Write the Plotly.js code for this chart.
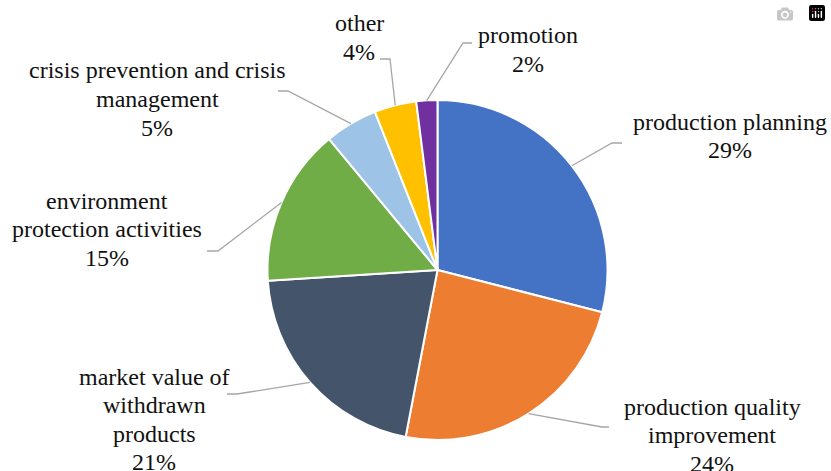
<!DOCTYPE html>
<html>
<head>
<meta charset="utf-8">
<script src="https://cdn.plot.ly/plotly-3.0.1.min.js"></script>
</head>
<body style="margin:0">
<div id="chart"></div>
<script>
// ---- data ----
const labels = ['production planning', 'production quality improvement', 'market value of withdrawn products',
  'environment protection activities', 'crisis prevention and crisis management', 'other', 'promotion'];
const values = [29, 24, 21, 15, 5, 4, 2];
// wrapped label text (as in the reference)
const labelLines = [
  ['production planning'],
  ['production quality', 'improvement'],
  ['market value of', 'withdrawn', 'products'],
  ['environment', 'protection activities'],
  ['crisis prevention and crisis', 'management'],
  ['other'],
  ['promotion']
];

// ---- style ----
const colors = ['#4472C4', '#ED7D31', '#44546A', '#70AD47', '#9DC3E6', '#FFC000', '#7030A0'];
const W = 831, H = 471;
const cx = 437.5, cy = 270, R = 170;
const FS = 24, LS = 28.5;
const FONT = 'Times New Roman';
// label placement: text centre x, first baseline y, leader elbow and end (pixels)
const labelPos = [
  {x: 730, y: 129, elbow: [612, 143], end: [622, 143]},
  {x: 712, y: 414, elbow: [602, 427], end: [609, 427]},
  {x: 154, y: 384, elbow: [237, 394], end: [227, 394]},
  {x: 107, y: 208, elbow: [218, 251], end: [207, 251]},
  {x: 157, y: 78,  elbow: [288, 91],  end: [278, 91]},
  {x: 359, y: 31,  elbow: [390, 59],  end: [380, 59]},
  {x: 528, y: 43,  elbow: [463, 43],  end: [472, 43]}
];

const px = x => x / W;
const py = y => 1 - y / H;

const total = values.reduce((a, b) => a + b, 0);
const annotations = [];
const shapes = [];
let cum = 0;
values.forEach((v, i) => {
  const th = (cum + v / 2) / total * 2 * Math.PI;
  cum += v;
  const sx = cx + R * Math.sin(th), sy = cy - R * Math.cos(th);
  const lp = labelPos[i];
  shapes.push({
    type: 'path', xref: 'paper', yref: 'paper',
    path: `M ${px(sx)} ${py(sy)} L ${px(lp.elbow[0])} ${py(lp.elbow[1])} L ${px(lp.end[0])} ${py(lp.end[1])}`,
    line: {color: '#A6A6A6', width: 1.3}
  });
  const lines = labelLines[i].concat([Math.round(v / total * 100) + '%']);
  lines.forEach((t, k) => {
    annotations.push({
      text: t, showarrow: false, xref: 'paper', yref: 'paper',
      x: px(lp.x), y: py(lp.y + k * LS - 7.5), xanchor: 'center', yanchor: 'middle',
      font: {family: FONT, size: FS, color: '#111'}
    });
  });
});

const trace = {
  type: 'pie', labels: labels, values: values, sort: false, direction: 'clockwise', rotation: 0,
  textinfo: 'none', hoverinfo: 'label+percent',
  marker: {colors: colors, line: {color: '#ffffff', width: 2}},
  domain: {x: [px(cx - R), px(cx + R)], y: [py(cy + R), py(cy - R)]}
};

Plotly.newPlot('chart', [trace], {
  width: W, height: H, margin: {l: 0, r: 0, t: 0, b: 0},
  showlegend: false,
  annotations: annotations, shapes: shapes
});
</script>
</body>
</html>
